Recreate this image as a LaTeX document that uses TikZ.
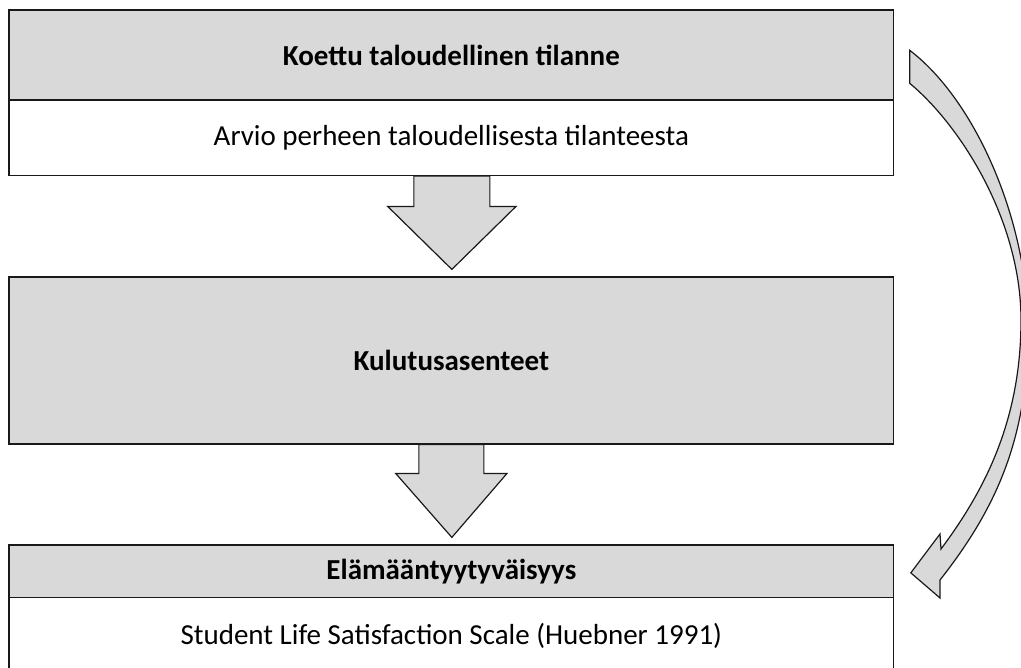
\documentclass[tikz,border=0pt]{standalone}
\usepackage{fontspec}
\setmainfont{Carlito}
\usetikzlibrary{calc}

\definecolor{boxgray}{HTML}{D9D9D9}
\tikzset{
  boxbase/.style={draw=black!90, line width=1.2pt, rectangle, minimum width=884.7pt, inner sep=0pt},
  hdrbox/.style={boxbase, fill=boxgray, font=\fontsize{29}{35}\selectfont\bfseries},
  bodybox/.style={boxbase, fill=white, font=\fontsize{29}{35}\selectfont},
  blockarrow/.style={draw=black!90, line width=1.2pt, fill=boxgray, line join=miter}
}

\begin{document}
\begin{tikzpicture}[x=1pt, y=-1pt]
\useasboundingbox (0,0) rectangle (1021,668);

% boxes
\node[hdrbox, minimum height=90pt] (hdrTop) at (451.35,55) {Koettu taloudellinen tilanne};
\node[bodybox, minimum height=75.5pt] (bodyTop) at (451.35,137.75) {Arvio perheen taloudellisesta tilanteesta};
\node[hdrbox, minimum height=167pt] (kulutus) at (451.35,360.5) {Kulutusasenteet};
\node[hdrbox, minimum height=52.7pt] (hdrBottom) at (451.35,571.35) {Elämääntyytyväisyys};
\node[bodybox, minimum height=76.6pt] (bodyBottom) at (451.35,636) {Student Life Satisfaction Scale (Huebner 1991)};

% block arrows between the boxes
\draw[blockarrow] ($(bodyTop.south)+(-37.5,0)$) -- ++(0,30.5) -- ++(-26,0)
  -- ($(kulutus.north)+(0.5,-7)$) -- ($(bodyTop.south)+(64.5,30.5)$)
  -- ++(-26,0) -- ++(0,-30.5) -- cycle;
\draw[blockarrow] ($(kulutus.south)+(-32.5,0)$) -- ++(0,29) -- ++(-23,0)
  -- ($(hdrBottom.north)+(0.5,-7)$) -- ($(kulutus.south)+(55.5,29)$)
  -- ++(-23,0) -- ++(0,-29) -- cycle;

% curved arrow on the right
\coordinate (ctail) at ($(hdrTop.north east)+(15.5,74)$);
\coordinate (ctip) at ($(hdrBottom.east)+(16.5,1.5)$);
\draw[blockarrow] ($(ctail)+(0,-33)$)
  .. controls (975,100) and (1028,220) .. (1028,330)
  .. controls (1028,440) and (995,510) .. (940,580)
  -- (940,598) -- (ctip) -- (940,534) -- (941,549)
  .. controls (985,490) and (1021,420) .. (1021,320)
  .. controls (1021,220) and (960,125) .. (ctail) -- cycle;
\end{tikzpicture}
\end{document}
